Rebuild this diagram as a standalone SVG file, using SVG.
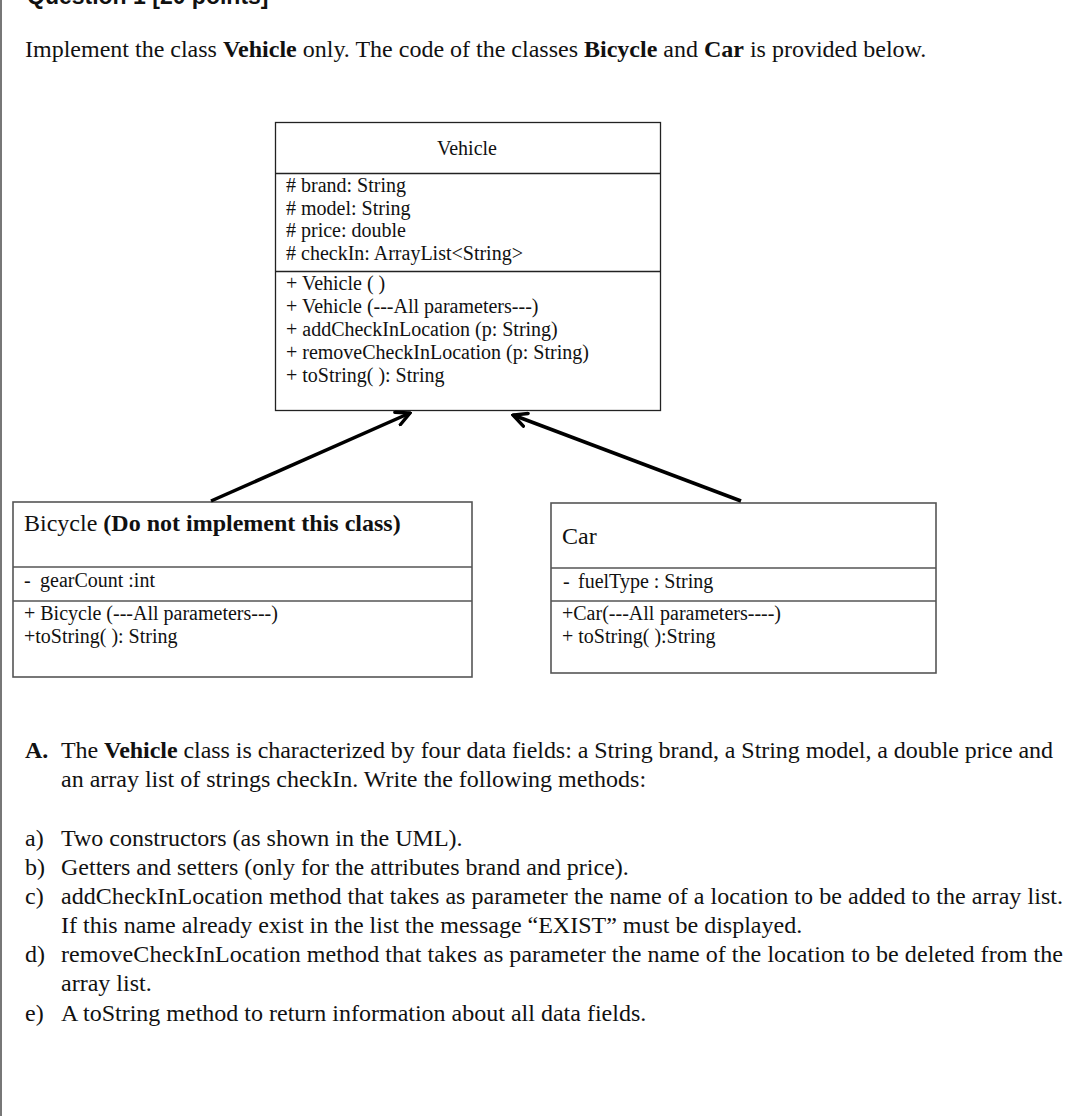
<svg xmlns="http://www.w3.org/2000/svg" width="1080" height="1116" viewBox="0 0 1080 1116">
<style>
.t{font-family:"Liberation Serif","Times New Roman",serif;fill:#111;}
.body{font-size:24px;}
.uml{font-size:20px;}
.sm{font-size:20px;}
.b{font-weight:bold;}
.box{fill:#fff;stroke:#222;stroke-width:1.3;}
.box2{fill:#fff;stroke:#555;stroke-width:1.6;}
.div{stroke:#222;stroke-width:1.3;}
.div2{stroke:#555;stroke-width:1.6;}
.conn{stroke:#000;stroke-width:3.5;fill:none;marker-end:url(#open);}
</style>
<defs>
<marker id="open" viewBox="0 0 10 10" refX="9" refY="5" markerUnits="userSpaceOnUse" markerWidth="17" markerHeight="17" orient="auto">
<path d="M1,1 L9,5 L1,9" fill="none" stroke="#000" stroke-width="2" stroke-linecap="round" stroke-linejoin="miter"/>
</marker>
</defs>
<rect width="1080" height="1116" fill="#fff"/>
<rect x="0" y="0" width="2" height="1116" fill="#777"/>
<text x="27" y="4" font-family="Liberation Sans, Arial, sans-serif" font-weight="bold" font-size="23" fill="#111">Question 1 [20 points]</text>
<text class="t body" x="25" y="57">Implement the class <tspan class="b">Vehicle</tspan> only. The code of the classes <tspan class="b">Bicycle</tspan> and <tspan class="b">Car</tspan> is provided below.</text>

<g id="vehicle">
<rect class="box" x="275.5" y="122.5" width="385" height="288"/>
<line class="div" x1="275.5" y1="173.5" x2="660.5" y2="173.5"/>
<line class="div" x1="275.5" y1="271.5" x2="660.5" y2="271.5"/>
<text class="t uml" x="467" y="155" text-anchor="middle">Vehicle</text>
<text class="t uml" x="286" y="192"># brand: String</text>
<text class="t uml" x="286" y="215"># model: String</text>
<text class="t uml" x="286" y="237"># price: double</text>
<text class="t uml" x="286" y="260"># checkIn: ArrayList&lt;String&gt;</text>
<text class="t uml" x="286" y="290">+ Vehicle ( )</text>
<text class="t uml" x="286" y="313">+ Vehicle (---All parameters---)</text>
<text class="t uml" x="286" y="336">+ addCheckInLocation (p: String)</text>
<text class="t uml" x="286" y="359">+ removeCheckInLocation (p: String)</text>
<text class="t uml" x="286" y="382">+ toString( ): String</text>
</g>

<g id="bicycle">
<rect class="box2" x="13" y="502" width="459" height="175"/>
<line class="div2" x1="13" y1="567" x2="472" y2="567"/>
<line class="div2" x1="13" y1="601" x2="472" y2="601"/>
<text class="t body" x="24" y="531">Bicycle <tspan class="b">(Do not implement this class)</tspan></text>
<text class="t sm" x="24" y="587">-<tspan x="40">gearCount :int</tspan></text>
<text class="t sm" x="24" y="620">+ Bicycle (---All parameters---)</text>
<text class="t sm" x="24" y="643">+toString( ): String</text>
</g>

<g id="car">
<rect class="box2" x="551" y="503" width="385" height="170"/>
<line class="div2" x1="551" y1="568" x2="936" y2="568"/>
<line class="div2" x1="551" y1="601" x2="936" y2="601"/>
<text class="t body" x="562" y="544">Car</text>
<text class="t sm" x="563" y="588">-<tspan x="578">fuelType : String</tspan></text>
<text class="t sm" x="562" y="620">+Car(---All<tspan x="660">parameters----)</tspan></text>
<text class="t sm" x="562" y="643">+ toString( ):String</text>
</g>

<g id="connectors">
<line class="conn" x1="211" y1="501" x2="410" y2="413"/>
<line class="conn" x1="741" y1="501" x2="513" y2="415"/>
</g>

<g id="questions">
<text class="t body" x="25" y="758"><tspan class="b">A.</tspan></text>
<text class="t body" x="61" y="758" textLength="992" lengthAdjust="spacing">The <tspan class="b">Vehicle</tspan> class is characterized by four data fields: a String brand, a String model, a double price and</text>
<text class="t body" x="61" y="787">an array list of strings checkIn. Write the following methods:</text>
<text class="t body" x="25" y="846">a)</text>
<text class="t body" x="61" y="846">Two constructors (as shown in the UML).</text>
<text class="t body" x="25" y="875">b)</text>
<text class="t body" x="61" y="875">Getters and setters (only for the attributes brand and price).</text>
<text class="t body" x="25" y="904">c)</text>
<text class="t body" x="61" y="904" textLength="1002" lengthAdjust="spacing">addCheckInLocation method that takes as parameter the name of a location to be added to the array list.</text>
<text class="t body" x="61" y="933">If this name already exist in the list the message “EXIST” must be displayed.</text>
<text class="t body" x="25" y="962">d)</text>
<text class="t body" x="61" y="962" textLength="1002" lengthAdjust="spacing">removeCheckInLocation method that takes as parameter the name of the location to be deleted from the</text>
<text class="t body" x="61" y="991">array list.</text>
<text class="t body" x="25" y="1021">e)</text>
<text class="t body" x="61" y="1021">A toString method to return information about all data fields.</text>
</g>
</svg>
